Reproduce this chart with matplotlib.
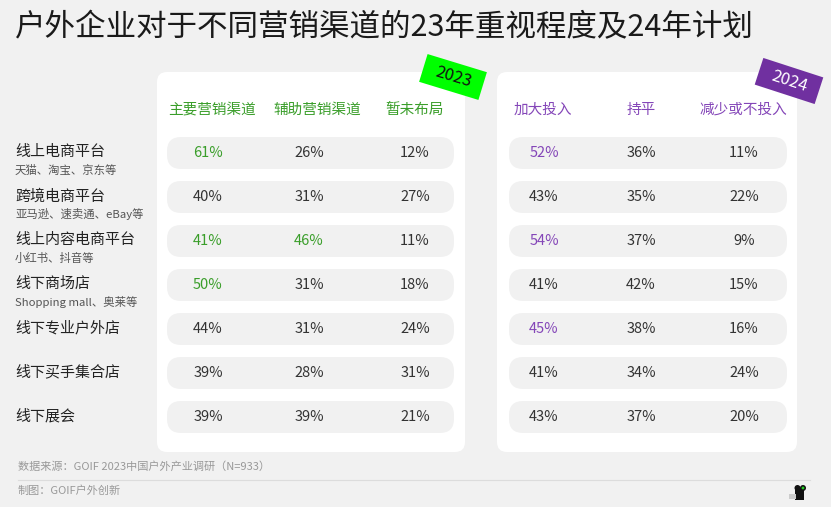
import numpy as np
import matplotlib
matplotlib.use("Agg")
import matplotlib.pyplot as plt
from matplotlib.patches import FancyBboxPatch, Polygon, Rectangle, Circle

plt.rcParams['font.family'] = ['Noto Sans CJK SC', 'DejaVu Sans']

# ---- data ----
channels = ['线上电商平台', '跨境电商平台', '线上内容电商平台', '线下商场店',
            '线下专业户外店', '线下买手集合店', '线下展会']
channel_notes = ['天猫、淘宝、京东等', '亚马逊、速卖通、eBay等', '小红书、抖音等',
                 'Shopping mall、奥莱等', '', '', '']

cols_2023 = ['主要营销渠道', '辅助营销渠道', '暂未布局']
vals_2023 = [[61, 26, 12], [40, 31, 27], [41, 46, 11], [50, 31, 18],
             [44, 31, 24], [39, 28, 31], [39, 39, 21]]
hl_2023 = [[1, 0, 0], [0, 0, 0], [1, 1, 0], [1, 0, 0],
           [0, 0, 0], [0, 0, 0], [0, 0, 0]]

cols_2024 = ['加大投入', '持平', '减少或不投入']
vals_2024 = [[52, 36, 11], [43, 35, 22], [54, 37, 9], [41, 42, 15],
             [45, 38, 16], [41, 34, 24], [43, 37, 20]]
hl_2024 = [[1, 0, 0], [0, 0, 0], [1, 0, 0], [0, 0, 0],
           [1, 0, 0], [0, 0, 0], [0, 0, 0]]

title = '户外企业对于不同营销渠道的23年重视程度及24年计划'
source = '数据来源：GOIF 2023中国户外产业调研（N=933）'
credit = '制图：GOIF户外创新'

# ---- styling ----
bg = '#f1f1f1'
green = '#3a9e2a'
purple = '#8446b8'
dark = '#333333'

W, H = 831, 507
fig = plt.figure(figsize=(W / 100, H / 100), dpi=100, facecolor=bg)
ax = fig.add_axes([0, 0, 1, 1])
ax.set_xlim(0, W)
ax.set_ylim(H, 0)
ax.axis('off')
ax.set_facecolor(bg)

ax.text(15, 28, title, fontsize=22, color='#1a1a1a', va='center', ha='left')

row_y0, row_step = 153, 44
row_y = [row_y0 + i * row_step for i in range(len(channels))]


def rtag(cx, cy, w, h, ang, fc, label, tc):
    # rotated label box (y axis points down, so +ang turns clockwise on screen)
    t = np.deg2rad(ang)
    c, s = np.cos(t), np.sin(t)
    pts = []
    for dx, dy in [(-w / 2, -h / 2), (w / 2, -h / 2), (w / 2, h / 2), (-w / 2, h / 2)]:
        pts.append((cx + dx * c - dy * s, cy + dx * s + dy * c))
    ax.add_patch(Polygon(pts, closed=True, fc=fc, ec='none', zorder=5))
    ax.text(cx, cy, label, fontsize=12, color=tc, rotation=-ang,
            ha='center', va='center', rotation_mode='anchor', zorder=6)


def panel(x0, x1, cols, vals, hl, hcolor, hdr_x, val_x, pill_x0, pill_x1):
    ax.add_patch(FancyBboxPatch((x0, 72), x1 - x0, 380,
                                boxstyle='round,pad=0,rounding_size=10',
                                fc='white', ec='none', zorder=1))
    for j, name in enumerate(cols):
        ax.text(hdr_x[j], 110, name, fontsize=10.5, color=hcolor,
                ha='center', va='center', zorder=3)
    for i, y in enumerate(row_y):
        ax.add_patch(FancyBboxPatch((pill_x0, y - 16), pill_x1 - pill_x0, 32,
                                    boxstyle='round,pad=0,rounding_size=14',
                                    fc=bg, ec='none', zorder=2))
        for j, v in enumerate(vals[i]):
            ax.text(val_x[j], y, f'{v}%', fontsize=10.5,
                    color=hcolor if hl[i][j] else dark,
                    ha='center', va='center', zorder=3)


panel(157, 465, cols_2023, vals_2023, hl_2023, green,
      [212, 317, 415], [208, 309, 415], 167, 454)
panel(497, 797, cols_2024, vals_2024, hl_2024, purple,
      [543, 641, 743], [544, 641, 744], 509, 787)

rtag(453, 77, 62, 29, 17, '#00ff00', '2023', '#111111')
rtag(789, 81, 63, 28, 18, '#7030a0', '2024', 'white')

for i, y in enumerate(row_y):
    ax.text(15, y - 1, channels[i], fontsize=10.8, color='#222222',
            ha='left', va='center')
    if channel_notes[i]:
        ax.text(15, y + 17, channel_notes[i], fontsize=8.2, color='#555555',
                ha='left', va='center')

# footer
ax.text(18, 467, source, fontsize=8, color='#999999', ha='left', va='center')
ax.plot([18, 810], [480, 480], color='#dcdcdc', lw=0.8)
ax.text(18, 491, credit, fontsize=8, color='#999999', ha='left', va='center')

# small logo
ax.add_patch(Rectangle((795, 488), 9, 12, fc='#111111', ec='none'))
ax.add_patch(Circle((797.5, 488), 3, fc='#111111', ec='none'))
ax.add_patch(Circle((803, 488), 3, fc='#111111', ec='none'))
ax.add_patch(Circle((803, 488), 1.4, fc='#22cc22', ec='none'))
ax.add_patch(Rectangle((789, 494), 7, 5, fc='#cccccc', ec='none'))

fig.savefig('out.png', dpi=100, facecolor=bg)
